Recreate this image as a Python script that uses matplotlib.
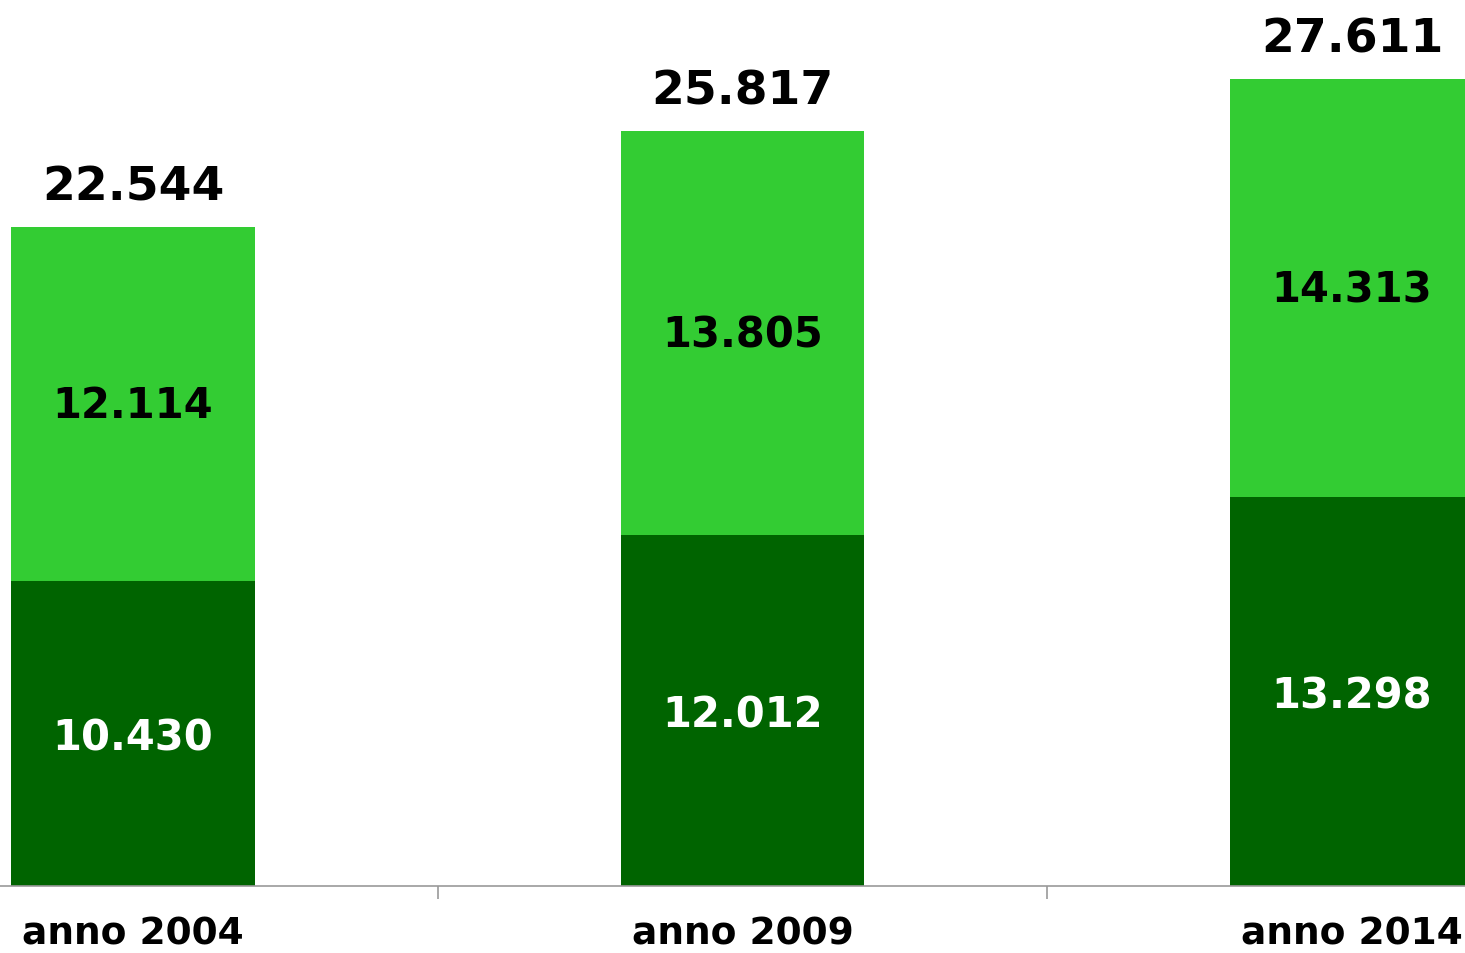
import matplotlib
matplotlib.use('Agg')
from matplotlib import pyplot as plt
import matplotlib.ticker as ticker

# Chart data
years = ['anno 2004', 'anno 2009', 'anno 2014']
lower = [10430, 12012, 13298]
upper = [12114, 13805, 14313]
totals = [22544, 25817, 27611]


def fmt(v):
    # Italian thousands separator
    return f'{v:,}'.replace(',', '.')


fig = plt.figure(figsize=(14.65, 9.54), dpi=100)
ax = fig.add_axes([0, 1 - 887 / 954, 1, 887 / 954])

x = list(range(len(years)))
width = 0.40

# Draw the stacked bars
bars_low = ax.bar(x, lower, width, color='#006400', linewidth=0)
bars_up = ax.bar(x, upper, width, bottom=lower, color='#33CC33', linewidth=0)

# Values inside the segments
for bars, vals, col, dy in [(bars_low, lower, 'white', -3), (bars_up, upper, 'black', -1)]:
    for rect, v in zip(bars, vals):
        ax.annotate(fmt(v), (rect.get_x() + rect.get_width() / 2, rect.get_y() + rect.get_height() / 2),
                    xytext=(0, dy), textcoords='offset points',
                    ha='center', va='center', color=col, fontsize=30, fontweight='bold')

# Totals above the bars
for xi, t in zip(x, totals):
    ax.annotate(fmt(t), (xi, t), xytext=(0, 20), textcoords='offset points',
                ha='center', va='baseline', fontsize=34, fontweight='bold', color='black')

ax.set_xlim(-133 / 609.5, (1465 - 133) / 609.5)
ax.set_ylim(0, 30345)

# Axis styling: only the bottom line with separators between categories
for side in ['top', 'right', 'left']:
    ax.spines[side].set_visible(False)
ax.spines['bottom'].set_color('#999999')
ax.spines['bottom'].set_linewidth(1.2)
ax.set_yticks([])
ax.set_xticks(x)
ax.set_xticklabels(years, fontsize=27, fontweight='bold')
ax.tick_params(axis='x', which='major', length=0, pad=21)
ax.xaxis.set_minor_locator(ticker.FixedLocator([0.5, 1.5]))
ax.tick_params(axis='x', which='minor', length=9.5, width=1.2, color='#999999')

fig.savefig('out.png', dpi=100)
